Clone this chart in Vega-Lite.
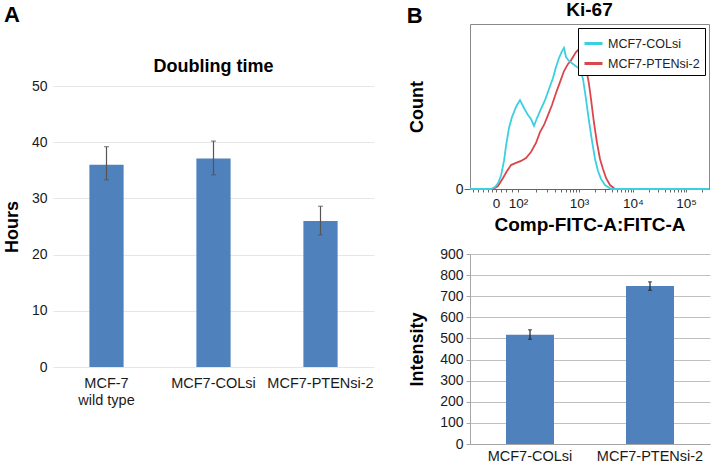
{
  "$schema": "https://vega.github.io/schema/vega-lite/v6.json",
  "background": "white",
  "padding": {"left": 3, "top": 0, "right": 2, "bottom": 0},
  "config": {
    "font": "Liberation Sans",
    "view": {"stroke": null},
    "axis": {"labelFont": "Liberation Sans", "titleFont": "Liberation Sans", "labelColor": "#1a1a1a", "titleColor": "#000000"},
    "title": {"font": "Liberation Sans", "color": "#000000"},
    "legend": {"labelFont": "Liberation Sans"}
  },
  "datasets": {
    "doubling": [
      {"line": "MCF-7 wild type", "hours": 36, "lo": 33.3, "hi": 39.2},
      {"line": "MCF7-COLsi", "hours": 37.1, "lo": 34.2, "hi": 40.2},
      {"line": "MCF7-PTENsi-2", "hours": 26, "lo": 23.5, "hi": 28.6}
    ],
    "ki67": [
      {"line": "MCF7-COLsi", "intensity": 518, "lo": 496, "hi": 541},
      {"line": "MCF7-PTENsi-2", "intensity": 748, "lo": 728, "hi": 768}
    ],
    "hist": [
      {"sample": "MCF7-PTENsi-2", "channel": 0, "count": 0},
      {"sample": "MCF7-PTENsi-2", "channel": 23, "count": 0},
      {"sample": "MCF7-PTENsi-2", "channel": 28, "count": 1.8},
      {"sample": "MCF7-PTENsi-2", "channel": 33, "count": 6.7},
      {"sample": "MCF7-PTENsi-2", "channel": 37, "count": 10.9},
      {"sample": "MCF7-PTENsi-2", "channel": 41, "count": 14.5},
      {"sample": "MCF7-PTENsi-2", "channel": 46, "count": 15.8},
      {"sample": "MCF7-PTENsi-2", "channel": 51, "count": 17},
      {"sample": "MCF7-PTENsi-2", "channel": 56, "count": 18.8},
      {"sample": "MCF7-PTENsi-2", "channel": 61, "count": 22.4},
      {"sample": "MCF7-PTENsi-2", "channel": 66, "count": 27.9},
      {"sample": "MCF7-PTENsi-2", "channel": 70, "count": 34.5},
      {"sample": "MCF7-PTENsi-2", "channel": 74, "count": 38.8},
      {"sample": "MCF7-PTENsi-2", "channel": 78, "count": 44.8},
      {"sample": "MCF7-PTENsi-2", "channel": 82, "count": 50.9},
      {"sample": "MCF7-PTENsi-2", "channel": 86, "count": 58.2},
      {"sample": "MCF7-PTENsi-2", "channel": 90, "count": 64.8},
      {"sample": "MCF7-PTENsi-2", "channel": 94, "count": 71.5},
      {"sample": "MCF7-PTENsi-2", "channel": 98, "count": 75.8},
      {"sample": "MCF7-PTENsi-2", "channel": 100, "count": 77},
      {"sample": "MCF7-PTENsi-2", "channel": 103, "count": 80},
      {"sample": "MCF7-PTENsi-2", "channel": 106, "count": 83},
      {"sample": "MCF7-PTENsi-2", "channel": 108, "count": 84.2},
      {"sample": "MCF7-PTENsi-2", "channel": 111, "count": 79.4},
      {"sample": "MCF7-PTENsi-2", "channel": 114, "count": 74.5},
      {"sample": "MCF7-PTENsi-2", "channel": 117, "count": 70.3},
      {"sample": "MCF7-PTENsi-2", "channel": 119, "count": 63.6},
      {"sample": "MCF7-PTENsi-2", "channel": 121, "count": 54.5},
      {"sample": "MCF7-PTENsi-2", "channel": 124, "count": 40},
      {"sample": "MCF7-PTENsi-2", "channel": 127, "count": 27.9},
      {"sample": "MCF7-PTENsi-2", "channel": 130, "count": 18.2},
      {"sample": "MCF7-PTENsi-2", "channel": 133, "count": 12.1},
      {"sample": "MCF7-PTENsi-2", "channel": 136, "count": 6.7},
      {"sample": "MCF7-PTENsi-2", "channel": 140, "count": 2.4},
      {"sample": "MCF7-PTENsi-2", "channel": 145, "count": 0},
      {"sample": "MCF7-PTENsi-2", "channel": 239, "count": 0},
      {"sample": "MCF7-COLsi", "channel": 0, "count": 0},
      {"sample": "MCF7-COLsi", "channel": 21, "count": 0},
      {"sample": "MCF7-COLsi", "channel": 25, "count": 1.2},
      {"sample": "MCF7-COLsi", "channel": 28, "count": 3.5},
      {"sample": "MCF7-COLsi", "channel": 31, "count": 8},
      {"sample": "MCF7-COLsi", "channel": 34, "count": 17},
      {"sample": "MCF7-COLsi", "channel": 36, "count": 26},
      {"sample": "MCF7-COLsi", "channel": 39, "count": 37},
      {"sample": "MCF7-COLsi", "channel": 42, "count": 43.6},
      {"sample": "MCF7-COLsi", "channel": 46, "count": 49.7},
      {"sample": "MCF7-COLsi", "channel": 50, "count": 53.9},
      {"sample": "MCF7-COLsi", "channel": 54, "count": 49.1},
      {"sample": "MCF7-COLsi", "channel": 58, "count": 44.8},
      {"sample": "MCF7-COLsi", "channel": 61, "count": 42.4},
      {"sample": "MCF7-COLsi", "channel": 64, "count": 38.2},
      {"sample": "MCF7-COLsi", "channel": 67, "count": 43},
      {"sample": "MCF7-COLsi", "channel": 71, "count": 48.5},
      {"sample": "MCF7-COLsi", "channel": 75, "count": 53.9},
      {"sample": "MCF7-COLsi", "channel": 79, "count": 60.6},
      {"sample": "MCF7-COLsi", "channel": 83, "count": 67.3},
      {"sample": "MCF7-COLsi", "channel": 86, "count": 73.9},
      {"sample": "MCF7-COLsi", "channel": 89, "count": 79.4},
      {"sample": "MCF7-COLsi", "channel": 92, "count": 83.6},
      {"sample": "MCF7-COLsi", "channel": 94, "count": 85.5},
      {"sample": "MCF7-COLsi", "channel": 96, "count": 80},
      {"sample": "MCF7-COLsi", "channel": 99, "count": 77.6},
      {"sample": "MCF7-COLsi", "channel": 103, "count": 75.8},
      {"sample": "MCF7-COLsi", "channel": 107, "count": 73.9},
      {"sample": "MCF7-COLsi", "channel": 110, "count": 72.7},
      {"sample": "MCF7-COLsi", "channel": 113, "count": 66.7},
      {"sample": "MCF7-COLsi", "channel": 116, "count": 54.5},
      {"sample": "MCF7-COLsi", "channel": 119, "count": 41.2},
      {"sample": "MCF7-COLsi", "channel": 122, "count": 29.1},
      {"sample": "MCF7-COLsi", "channel": 125, "count": 18.2},
      {"sample": "MCF7-COLsi", "channel": 128, "count": 10.9},
      {"sample": "MCF7-COLsi", "channel": 131, "count": 6.1},
      {"sample": "MCF7-COLsi", "channel": 135, "count": 2.4},
      {"sample": "MCF7-COLsi", "channel": 141, "count": 0},
      {"sample": "MCF7-COLsi", "channel": 239, "count": 0}
    ]
  },
  "spacing": 32,
  "resolve": {"legend": {"color": "independent"}},
  "hconcat": [
    {
      "spacing": 32,
      "vconcat": [
        {
          "width": 321,
          "height": 1,
          "title": {"text": "A", "anchor": "start", "dx": -49, "dy": 3, "fontSize": 22, "fontWeight": "bold", "offset": 0},
          "data": {"values": []},
          "mark": "rule",
          "encoding": {}
        },
        {
          "width": 321,
          "height": 281,
          "title": {"text": "Doubling time", "fontSize": 18, "fontWeight": "bold", "offset": 3},
          "data": {"name": "doubling"},
          "encoding": {
            "x": {
              "field": "line", "type": "nominal", "sort": null,
              "scale": {"paddingInner": 0.68, "paddingOuter": 0.34},
              "axis": {
                "title": null, "labelAngle": 0, "domain": false, "ticks": false,
                "labelFontSize": 14.5, "labelPadding": 9, "labelLineHeight": 17,
                "labelExpr": "datum.value == 'MCF-7 wild type' ? ['MCF-7', 'wild type'] : datum.value"
              }
            }
          },
          "layer": [
            {
              "mark": {"type": "bar", "color": "#4f81bd"},
              "encoding": {
                "y": {
                  "field": "hours", "type": "quantitative",
                  "scale": {"domain": [0, 50], "nice": false},
                  "axis": {
                    "title": "Hours", "values": [0, 10, 20, 30, 40, 50], "grid": true, "gridColor": "#e6e6e6",
                    "domain": false, "ticks": false, "labelFontSize": 14, "labelPadding": 6,
                    "titleFontSize": 18, "titleFontWeight": "bold", "titlePadding": 10
                  }
                }
              }
            },
            {
              "mark": {"type": "errorbar", "ticks": true, "color": "#555555", "thickness": 1.2, "size": 5},
              "encoding": {
                "y": {
                  "field": "lo", "type": "quantitative",
                  "axis": {
                    "title": "Hours", "values": [0, 10, 20, 30, 40, 50], "grid": true, "gridColor": "#e6e6e6",
                    "domain": false, "ticks": false, "labelFontSize": 14, "labelPadding": 6,
                    "titleFontSize": 18, "titleFontWeight": "bold", "titlePadding": 10
                  }
                },
                "y2": {"field": "hi"}
              }
            }
          ]
        }
      ]
    },
    {
      "title": {"text": "B", "orient": "left", "angle": 0, "anchor": "end", "align": "left", "baseline": "top", "offset": -15, "dy": 5, "fontSize": 22, "fontWeight": "bold"},
      "spacing": 12,
      "resolve": {"legend": {"color": "independent"}},
      "vconcat": [
        {
          "width": 239,
          "height": 165,
          "title": {"text": "Ki-67", "fontSize": 19, "fontWeight": "bold", "offset": 1, "dy": -3},
          "view": {"stroke": "#8a8a8a"},
          "data": {"name": "hist"},
          "mark": {"type": "line", "strokeWidth": 1.8},
          "encoding": {
            "x": {
              "field": "channel", "type": "quantitative",
              "scale": {"domain": [0, 239], "nice": false, "zero": false},
              "axis": {
                "title": "Comp-FITC-A:FITC-A", "titleFontSize": 19, "titleFontWeight": "bold", "titlePadding": 6,
                "values": [3, 8, 13, 18, 22, 26, 31, 36, 42, 48, 66, 77, 85, 91, 96, 100, 103, 106, 109, 125, 135, 142, 147, 151, 155, 158, 161, 163, 179, 188, 195, 200, 204, 208, 211, 214, 216, 232],
                "labelExpr": "datum.value == 26 ? '0' : datum.value == 48 ? '10²' : datum.value == 109 ? '10³' : datum.value == 163 ? '10⁴' : datum.value == 216 ? '10⁵' : ''",
                "grid": false, "domainColor": "#666666", "tickColor": "#666666", "tickSize": 3,
                "labelFontSize": 13.5, "labelPadding": 4, "labelFlush": false, "labelOverlap": false
              }
            },
            "y": {
              "field": "count", "type": "quantitative",
              "scale": {"domain": [0, 100], "nice": false},
              "axis": {
                "title": "Count", "values": [0], "grid": false, "domain": false, "tickSize": 6, "tickColor": "#666666",
                "labelFontSize": 14, "labelPadding": 1, "titleFontSize": 18, "titleFontWeight": "bold", "titlePadding": 29
              }
            },
            "color": {
              "field": "sample", "type": "nominal",
              "scale": {"domain": ["MCF7-COLsi", "MCF7-PTENsi-2"], "range": ["#3ccfe0", "#d9464c"]},
              "legend": {
                "title": null, "orient": "top-right", "offset": 4, "strokeColor": "#000000", "fillColor": "white",
                "padding": 5, "symbolType": "stroke", "symbolSize": 324, "symbolStrokeWidth": 3,
                "labelFontSize": 12.5, "labelColor": "#222222", "rowPadding": 3
              }
            }
          }
        },
        {
          "width": 240,
          "height": 190,
          "data": {"name": "ki67"},
          "encoding": {
            "x": {
              "field": "line", "type": "nominal", "sort": null,
              "scale": {"paddingInner": 0.6, "paddingOuter": 0.3},
              "axis": {"title": null, "labelAngle": 0, "labelFontSize": 14.5, "domainColor": "#a6a6a6", "ticks": false, "labelPadding": 5}
            }
          },
          "layer": [
            {
              "mark": {"type": "bar", "color": "#4f81bd"},
              "encoding": {
                "y": {
                  "field": "intensity", "type": "quantitative",
                  "scale": {"domain": [0, 900], "nice": false},
                  "axis": {
                    "title": "Intensity", "values": [0, 100, 200, 300, 400, 500, 600, 700, 800, 900],
                    "gridColor": "#c0c0c0", "domainColor": "#a6a6a6", "tickColor": "#a6a6a6", "tickSize": 4,
                    "labelFontSize": 14, "labelPadding": 3, "labelOverlap": false, "labelFlush": false,
                    "titleFontSize": 18, "titleFontWeight": "bold", "titlePadding": 13
                  }
                }
              }
            },
            {
              "mark": {"type": "errorbar", "ticks": true, "color": "#222222", "thickness": 1.2, "size": 4},
              "encoding": {
                "y": {
                  "field": "lo", "type": "quantitative",
                  "axis": {
                    "title": "Intensity", "values": [0, 100, 200, 300, 400, 500, 600, 700, 800, 900],
                    "gridColor": "#c0c0c0", "domainColor": "#a6a6a6", "tickColor": "#a6a6a6", "tickSize": 4,
                    "labelFontSize": 14, "labelPadding": 3, "labelOverlap": false, "labelFlush": false,
                    "titleFontSize": 18, "titleFontWeight": "bold", "titlePadding": 13
                  }
                },
                "y2": {"field": "hi"}
              }
            }
          ]
        }
      ]
    }
  ]
}
